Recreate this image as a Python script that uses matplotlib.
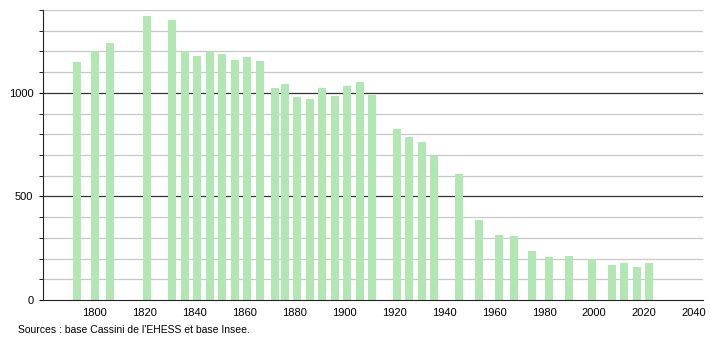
import matplotlib.pyplot as plt
from matplotlib.ticker import MultipleLocator

plt.rcParams['font.family'] = ['Liberation Sans', 'DejaVu Sans']

years = [1793, 1800, 1806, 1821, 1831, 1836, 1841, 1846, 1851, 1856, 1861, 1866,
         1872, 1876, 1881, 1886, 1891, 1896, 1901, 1906, 1911, 1921, 1926, 1931,
         1936, 1946, 1954, 1962, 1968, 1975, 1982, 1990, 1999, 2007, 2012, 2017, 2022]
population = [1150, 1204, 1243, 1369, 1350, 1204, 1180, 1199, 1189, 1160, 1175, 1155,
              1024, 1044, 981, 971, 1024, 985, 1034, 1053, 990, 825, 786, 762,
              694, 607, 388, 316, 311, 238, 209, 214, 199, 170, 180, 160, 180]
xticks = [1800, 1820, 1840, 1860, 1880, 1900, 1920, 1940, 1960, 1980, 2000, 2020, 2040]
yticks = [0, 500, 1000]

fig = plt.figure(figsize=(7.1, 3.4), dpi=100)
ax = fig.add_axes([0.0606, 0.1176, 0.9296, 0.853])

# grid every 100, darker every 500
for v in range(100, 1500, 100):
    if v % 500 == 0:
        ax.axhline(v, color='#333333', lw=0.9, zorder=1)
    else:
        ax.axhline(v, color='#c8c8c8', lw=0.9, zorder=1)

ax.bar(years, population, width=3.2, color='#b2e6b2', zorder=2)

ax.set_xlim(1779.2, 2043.6)
ax.set_ylim(0, 1400)
ax.set_xticks(xticks)
ax.set_yticks(yticks)
ax.yaxis.set_minor_locator(MultipleLocator(100))
ax.tick_params(axis='x', length=0, labelsize=8, pad=6)
ax.tick_params(axis='y', which='major', length=3, labelsize=8, pad=4)
ax.tick_params(axis='y', which='minor', length=3)

for s in ['top', 'right']:
    ax.spines[s].set_visible(False)
ax.spines['left'].set_color('#222222')
ax.spines['bottom'].set_color('#222222')

fig.text(0.025, 0.02, "Sources : base Cassini de l'EHESS et base Insee.", fontsize=7.5)

fig.savefig('out.png', dpi=100)
